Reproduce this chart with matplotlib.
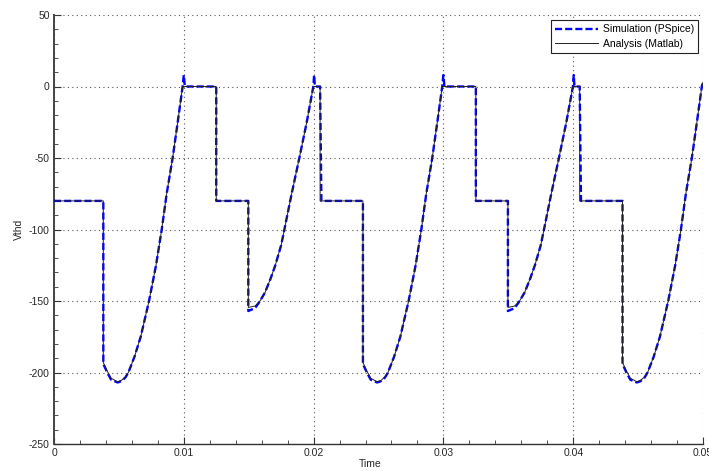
import matplotlib
matplotlib.use("Agg")
import matplotlib.pyplot as plt
from matplotlib.ticker import MultipleLocator, FixedLocator, FixedFormatter

plt.rcParams['font.family'] = ['Liberation Sans', 'DejaVu Sans']
plt.rcParams['axes.unicode_minus'] = False

# Analysis (Matlab) trace
t_ana = [0.0, 0.0038, 0.0038, 0.0041, 0.0044, 0.0049, 0.0052, 0.0055, 0.00573,
         0.0062, 0.00668, 0.00732, 0.00786, 0.0083, 0.00868, 0.00914, 0.00953,
         0.00991, 0.0125, 0.0125,
         0.01497, 0.01497, 0.01549, 0.01587, 0.01626, 0.0167, 0.01705, 0.0175,
         0.01775, 0.01831, 0.0189, 0.01947, 0.01998, 0.0205, 0.0205,
         0.0238, 0.0238, 0.0241, 0.0244, 0.0249, 0.0252, 0.0255, 0.02573,
         0.0262, 0.02668, 0.02732, 0.02786, 0.0283, 0.02868, 0.02914, 0.02953,
         0.02991, 0.0325, 0.0325,
         0.03497, 0.03497, 0.03549, 0.03587, 0.03626, 0.0367, 0.03705, 0.0375,
         0.03775, 0.03831, 0.0389, 0.03947, 0.03998, 0.0405, 0.0405,
         0.0438, 0.0438, 0.0441, 0.0444, 0.0449, 0.0452, 0.0455, 0.04573,
         0.0462, 0.04668, 0.04732, 0.04786, 0.0483, 0.04868, 0.04914, 0.04953,
         0.04991, 0.0500]
v_ana = [-80, -80, -193, -199, -204, -206.5, -205.5, -203, -200,
         -189, -175, -150, -125, -100, -75, -50, -25,
         0, 0, -80,
         -80, -154.5, -153.5, -150, -144, -134, -125, -111,
         -100, -75, -50, -25, 0, 0, -80,
         -80, -193, -199, -204, -206.5, -205.5, -203, -200,
         -189, -175, -150, -125, -100, -75, -50, -25,
         0, 0, -80,
         -80, -154.5, -153.5, -150, -144, -134, -125, -111,
         -100, -75, -50, -25, 0, 0, -80,
         -80, -193, -199, -204, -206.5, -205.5, -203, -200,
         -189, -175, -150, -125, -100, -75, -50, -25,
         0, 3]

# Simulation (PSpice) trace, with the small switching spikes
t_sim = [0.0, 0.0038, 0.0038, 0.0041, 0.0044, 0.0049, 0.0052, 0.0055, 0.00573,
         0.0062, 0.00668, 0.00732, 0.00786, 0.0083, 0.00868, 0.00914, 0.00953,
         0.00991, 0.01, 0.01008, 0.0125, 0.0125,
         0.01497, 0.01497, 0.01549, 0.01587, 0.01626, 0.0167, 0.01705, 0.0175,
         0.01775, 0.01831, 0.0189, 0.01947, 0.01998, 0.02004, 0.0201, 0.0205, 0.0206,
         0.0238, 0.0238, 0.0241, 0.0244, 0.0249, 0.0252, 0.0255, 0.02573,
         0.0262, 0.02668, 0.02732, 0.02786, 0.0283, 0.02868, 0.02914, 0.02953,
         0.02991, 0.03, 0.03008, 0.0325, 0.0325,
         0.03497, 0.03497, 0.03549, 0.03587, 0.03626, 0.0367, 0.03705, 0.0375,
         0.03775, 0.03831, 0.0389, 0.03947, 0.03998, 0.04004, 0.0401, 0.0405, 0.0406,
         0.0438, 0.0438, 0.0441, 0.0444, 0.0449, 0.0452, 0.0455, 0.04573,
         0.0462, 0.04668, 0.04732, 0.04786, 0.0483, 0.04868, 0.04914, 0.04953,
         0.04991, 0.0500]
v_sim = [-80, -80, -194, -200, -205, -207, -206, -203.5, -200,
         -189, -175, -150, -125, -100, -75, -50, -25,
         0, 8, 0, 0, -80,
         -80, -157, -155, -150, -144, -134, -125, -111,
         -100, -75, -50, -25, 0, 8, 0, 0, -80,
         -80, -194, -200, -205, -207, -206, -203.5, -200,
         -189, -175, -150, -125, -100, -75, -50, -25,
         0, 8, 0, 0, -80,
         -80, -157, -155, -150, -144, -134, -125, -111,
         -100, -75, -50, -25, 0, 8, 0, 0, -80,
         -80, -194, -200, -205, -207, -206, -203.5, -200,
         -189, -175, -150, -125, -100, -75, -50, -25,
         0, 3]

x_ticks = [0, 0.01, 0.02, 0.03, 0.04, 0.05]
x_labels = ['0', '0.01', '0.02', '0.03', '0.04', '0.05']
y_ticks = [-250, -200, -150, -100, -50, 0, 50]
y_labels = ['-250', '-200', '-150', '-100', '-50', '0', '50']

fig = plt.figure(figsize=(7.09, 4.71), dpi=100)
ax = fig.add_axes([54 / 709, 1 - 444 / 471, 649 / 709, 429 / 471])

ax.plot(t_sim, v_sim, color='#0000ff', lw=1.7, linestyle=(0, (3.0, 1.3)),
        label='Simulation (PSpice)', zorder=3)
ax.plot(t_ana, v_ana, color='#222222', lw=0.7, label='Analysis (Matlab)', zorder=4)

ax.set_xlim(0, 0.05)
ax.set_ylim(-250, 50)
ax.xaxis.set_major_locator(FixedLocator(x_ticks))
ax.xaxis.set_major_formatter(FixedFormatter(x_labels))
ax.yaxis.set_major_locator(FixedLocator(y_ticks))
ax.yaxis.set_major_formatter(FixedFormatter(y_labels))
ax.xaxis.set_minor_locator(MultipleLocator(0.002))
ax.yaxis.set_minor_locator(MultipleLocator(10))

ax.grid(True, which='major', linestyle=(0, (1, 3)), color='#555555', lw=0.8)
ax.tick_params(which='both', direction='in', colors='#333333', labelcolor='#262626',
               labelsize=7.5, top=False, right=False)
ax.tick_params(which='major', length=5, width=0.8, pad=3)
ax.tick_params(which='minor', length=3, width=0.6)

for side in ['top', 'right']:
    ax.spines[side].set_visible(False)
ax.spines['left'].set_color('#444444')
ax.spines['left'].set_linewidth(1.4)
ax.spines['bottom'].set_color('#333333')
ax.spines['bottom'].set_linewidth(1.0)

ax.set_xlabel('Time', fontsize=7.5, color='#262626')
ax.set_ylabel('Vthd', fontsize=7.5, color='#262626')
ax.xaxis.set_label_coords(0.487, -0.035)
ax.yaxis.set_label_coords(-0.047, 0.5)

leg = ax.legend(loc='upper right', bbox_to_anchor=(0.9923, 0.9883), borderaxespad=0,
                fontsize=7.5, fancybox=False, framealpha=1, edgecolor='#222222',
                handlelength=4.2, handletextpad=0.4, borderpad=0.4, labelspacing=0.45)
leg.get_frame().set_linewidth(0.8)

fig.savefig('out.png', dpi=100)
